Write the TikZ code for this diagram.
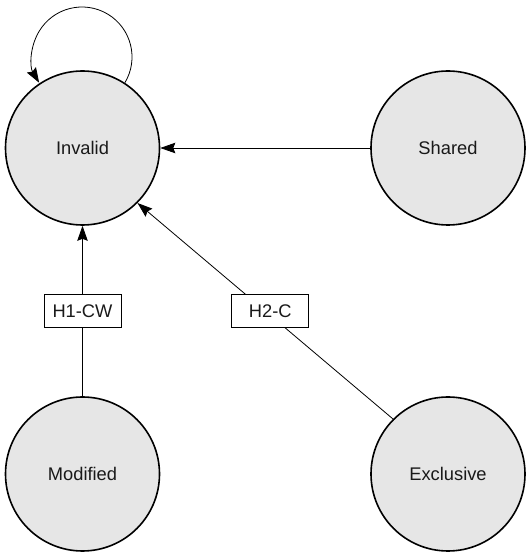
\documentclass[tikz,border=0pt]{standalone}
\usepackage{fontspec}
\setmainfont{Liberation Sans}
\usepackage{xcolor}
\usepackage{tikz}
\usetikzlibrary{arrows.meta, positioning, calc}
\definecolor{stategray}{RGB}{230, 230, 230}
\definecolor{textgray}{RGB}{25, 25, 25}
\tikzstyle{state} = [circle, draw=black, fill=stategray, minimum size=154pt, inner sep=0pt, line width=1.6pt, text=textgray, font=\fontsize{18.3}{21}\selectfont]
\tikzstyle{tag} = [rectangle, draw=black, fill=white, minimum width=77pt, minimum height=33pt, inner sep=0pt, line width=0.8pt, text=textgray, font=\fontsize{18.3}{21}\selectfont]
\tikzstyle{arrow} = [-{Stealth[length=15pt, width=10.5pt, inset=2pt]}, line width=0.8pt]

\begin{document}
\begin{tikzpicture}[x=1pt, y=1pt]
    \useasboundingbox (0,0) rectangle (526,552);

    % States
    \node[state] (invalid) at (82.5, 404) {Invalid};
    \node[state] (shared) at (448, 404) {Shared};
    \node[state] (modified) at (82.5, 78) {Modified};
    \node[state] (exclusive) at (448, 78) {Exclusive};

    % Self loop
    \draw[arrow] (invalid.57) arc[start angle=-31, end angle=211, radius=50];

    % Arrows
    \draw[arrow] (shared) -- (invalid);
    \draw[arrow] (modified) -- (invalid) node[tag, midway] (h1cw) {H1-CW};
    \draw[arrow] (exclusive.135) -- (invalid.-45) node[tag, midway, xshift=5pt] (h2c) {H2-C};
\end{tikzpicture}
\end{document}
